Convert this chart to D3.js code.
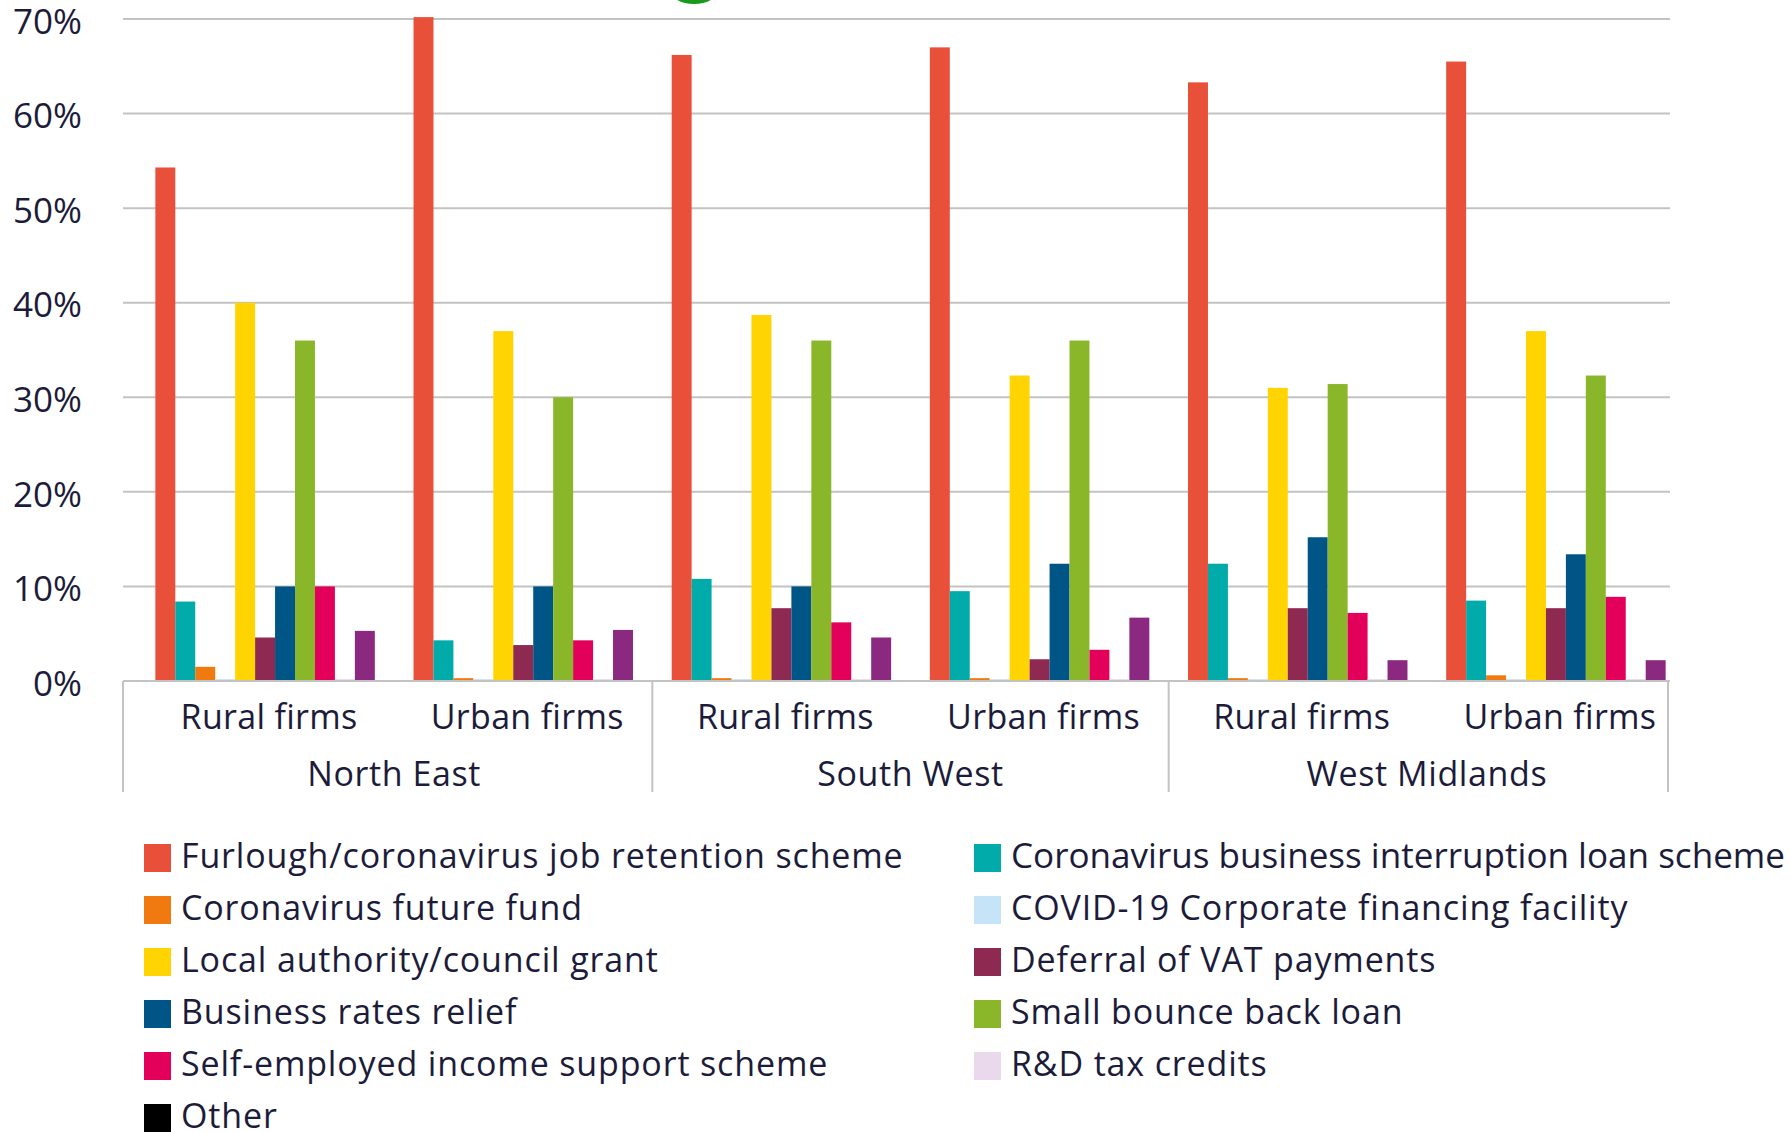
<!DOCTYPE html>
<html>
<head>
<meta charset="utf-8">
<script src="https://cdn.jsdelivr.net/npm/d3@7"></script>
<style>
  html, body { margin: 0; padding: 0; background: #ffffff; }
  svg { display: block; }
  text { font-family: "Open Sans", "Lato", sans-serif; fill: #1c1c3a; }
</style>
</head>
<body>
<svg id="chart" width="1791" height="1132"></svg>
<script>
// Regions and firm types along the x axis
const regions = ["North East", "South West", "West Midlands"];
const firmTypes = ["Rural firms", "Urban firms"];

// Support schemes, in bar order (left to right within each group)
const schemes = [
  "Furlough/coronavirus job retention scheme",
  "Coronavirus business interruption loan scheme",
  "Coronavirus future fund",
  "COVID-19 Corporate financing facility",
  "Local authority/council grant",
  "Deferral of VAT payments",
  "Business rates relief",
  "Small bounce back loan",
  "Self-employed income support scheme",
  "R&D tax credits",
  "Other"
];
const barColors = ["#e8503a", "#00abaa", "#f07a10", "#c6e4f7", "#ffd400", "#8e2a52",
                   "#005587", "#8ab72a", "#e2005a", "#ead8ec", "#8b2880"];
const legendColors = ["#e8503a", "#00abaa", "#f07a10", "#c6e4f7", "#ffd400", "#8e2a52",
                      "#005587", "#8ab72a", "#e2005a", "#ead8ec", "#000000"];

// Share of firms using each scheme (%), order:
// NE rural, NE urban, SW rural, SW urban, WM rural, WM urban
const furlough      = [54.3, 70.2, 66.2, 67.0, 63.3, 65.5];
const cbils         = [8.4, 4.3, 10.8, 9.5, 12.4, 8.5];
const futureFund    = [1.5, 0.3, 0.3, 0.3, 0.3, 0.6];
const ccff          = [0.2, 0.2, 0.2, 0.2, 0.2, 0.2];
const localGrant    = [40.0, 37.0, 38.7, 32.3, 31.0, 37.0];
const vatDeferral   = [4.6, 3.8, 7.7, 2.3, 7.7, 7.7];
const businessRates = [10.0, 10.0, 10.0, 12.4, 15.2, 13.4];
const bounceBack    = [36.0, 30.0, 36.0, 36.0, 31.4, 32.3];
const selfEmployed  = [10.0, 4.3, 6.2, 3.3, 7.2, 8.9];
const rdCredits     = [0.2, 0.2, 0.2, 0.2, 0.2, 0.2];
const other         = [5.3, 5.4, 4.6, 6.7, 2.2, 2.2];

const yTicks = [0, 10, 20, 30, 40, 50, 60, 70];

const seriesValues = [furlough, cbils, futureFund, ccff, localGrant, vatDeferral,
                      businessRates, bounceBack, selfEmployed, rdCredits, other];

// One entry per x group (region × firm type)
const groups = [];
regions.forEach(r => firmTypes.forEach(f => groups.push({ region: r, firm: f, key: r + "|" + f })));

const W = 1791;
const svg = d3.select("#chart");

const plotLeft = 123, plotRight = 1670;
const y = d3.scaleLinear().domain([0, 70]).range([681, 19]);
const x0 = d3.scaleBand().domain(groups.map(g => g.key)).range([136, 1685]).paddingInner(0).paddingOuter(0);
const x1 = d3.scaleBand().domain(d3.range(schemes.length)).range([0, x0.bandwidth()]).paddingOuter(0.97).paddingInner(0);

// Gridlines
svg.append("g").selectAll("line").data(yTicks).join("line")
  .attr("x1", plotLeft).attr("x2", plotRight)
  .attr("y1", d => y(d)).attr("y2", d => y(d))
  .attr("stroke", "#c3c3c3").attr("stroke-width", 2);

// Y axis labels
const yAxis = d3.axisLeft(y).tickValues(yTicks).tickFormat(d => d + "%").tickSize(0).tickPadding(0);
const ya = svg.append("g").attr("transform", "translate(82,3)").call(yAxis);
ya.select(".domain").remove();
ya.selectAll("text").attr("font-size", 35).attr("fill", "#1c1c3a")
  .style("font-family", '"Open Sans", sans-serif');

// Bars
const barG = svg.append("g");
groups.forEach((g, gi) => {
  barG.append("g").attr("transform", `translate(${x0(g.key)},0)`)
    .selectAll("rect").data(seriesValues.map((vals, si) => ({ si, v: vals[gi] })))
    .join("rect")
    .attr("x", d => x1(d.si))
    .attr("width", x1.bandwidth())
    .attr("y", d => y(d.v))
    .attr("height", d => y(0) - y(d.v))
    .attr("fill", d => barColors[d.si]);
});

// Baseline
svg.append("line").attr("x1", plotLeft).attr("x2", plotRight)
  .attr("y1", y(0)).attr("y2", y(0)).attr("stroke", "#c3c3c3").attr("stroke-width", 2);

// Group separators below the axis
const sepXs = [plotLeft, x0(groups[2].key), x0(groups[4].key), 1668];
svg.append("g").selectAll("line").data(sepXs).join("line")
  .attr("x1", d => d).attr("x2", d => d)
  .attr("y1", y(0)).attr("y2", 792)
  .attr("stroke", "#c3c3c3").attr("stroke-width", 2);

// Firm type labels
svg.append("g").selectAll("text").data(groups).join("text")
  .attr("x", d => x0(d.key) + x0.bandwidth() / 2 + 4)
  .attr("y", 729)
  .attr("text-anchor", "middle")
  .attr("font-size", 34)
  .attr("letter-spacing", 0.3)
  .text(d => d.firm);

// Region labels
svg.append("g").selectAll("text").data(regions).join("text")
  .attr("x", r => {
    const a = x0(r + "|" + firmTypes[0]);
    const b = x0(r + "|" + firmTypes[1]) + x0.bandwidth();
    return (a + b) / 2;
  })
  .attr("y", 786)
  .attr("text-anchor", "middle")
  .attr("font-size", 34)
  .attr("letter-spacing", 0.6)
  .text(r => r);

// Legend: two columns, filled row by row
const legend = svg.append("g");
const colX = [144, 974], rowY0 = 858, rowStep = 52;
schemes.forEach((s, i) => {
  const col = i % 2, row = Math.floor(i / 2);
  const colPos = (i === 10) ? 0 : col;
  const rowPos = (i === 10) ? 5 : row;
  const gx = colX[colPos], gy = rowY0 + rowPos * rowStep;
  legend.append("rect").attr("x", gx).attr("y", gy - 14).attr("width", 27).attr("height", 28)
    .attr("fill", legendColors[i]);
  const t = legend.append("text").attr("x", gx + 37).attr("y", gy + 10)
    .attr("font-size", 34).attr("letter-spacing", 0.85).text(s);
  // Keep long entries inside the right edge
  const maxW = W - 6 - (gx + 37);
  if (t.node().getComputedTextLength() > maxW) {
    t.attr("letter-spacing", 0).attr("textLength", maxW).attr("lengthAdjust", "spacingAndGlyphs");
  }
});

// Decorative green marker at the top edge
svg.append("ellipse").attr("cx", 694).attr("cy", -10).attr("rx", 24).attr("ry", 14).attr("fill", "#1a9a1a");
</script>
</body>
</html>
